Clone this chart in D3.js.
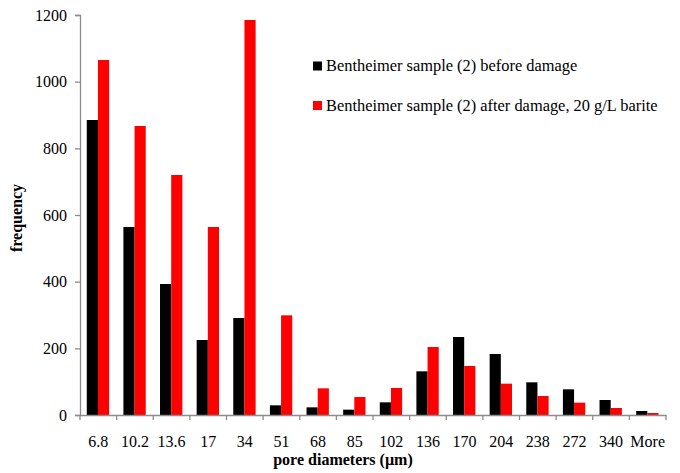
<!DOCTYPE html>
<html><head><meta charset="utf-8">
<script src="https://cdn.jsdelivr.net/npm/d3@7"></script>
<style>body{margin:0;background:#fff}svg{display:block}svg text{font-family:'Liberation Serif','Times New Roman','DejaVu Serif',serif !important}</style>
</head><body><svg id="c" width="680" height="473"></svg>
<script>
const categories = ["6.8","10.2","13.6","17","34","51","68","85","102","136","170","204","238","272","340","More"];
const beforeDamage = [885,564,393,225,291,29,23,16,38,131,234,183,98,77,45,12];
const afterDamage = [1065,867,720,564,1185,299,80,54,81,204,147,94,57,37,21,6];
const seriesNames = ["Bentheimer sample (2) before damage","Bentheimer sample (2) after damage, 20 g/L barite"];
const seriesColors = ["#000000","#ff0000"];
const yTicks = [0,200,400,600,800,1000,1200];

const FF = "'Liberation Serif','Times New Roman','DejaVu Serif',serif";
const svg = d3.select("#c");
const L=80, R=666, T=15, B=415;
const x0 = d3.scaleBand().domain(categories).range([L,R]).padding(0);
const bw = x0.bandwidth();
const x1 = d3.scaleBand().domain([0,1]).range([bw*0.185, bw*0.795]).padding(0);
const y = d3.scaleLinear().domain([0,1200]).range([B,T]);
const axisCol = "#8c8c8c";

const data = categories.map((c,i)=>({c, v:[beforeDamage[i], afterDamage[i]]}));
const g = svg.append("g");
data.forEach(d=>{
  d.v.forEach((v,j)=>{
    g.append("rect").attr("x", x0(d.c)+x1(j)).attr("width", x1.bandwidth())
     .attr("y", y(v)).attr("height", B-y(v)).attr("fill", seriesColors[j]);
  });
});

// y axis
const ya = svg.append("g").attr("transform",`translate(${L},0)`)
  .call(d3.axisLeft(y).tickValues(yTicks).tickSize(5).tickPadding(8).tickFormat(d3.format("d")));
ya.attr("font-family",FF);
ya.select(".domain").attr("stroke",axisCol).attr("stroke-width",1.3);
ya.selectAll(".tick line").attr("stroke",axisCol).attr("stroke-width",1.3);
ya.selectAll("text").attr("font-size",16).attr("fill","#000").style("font-family",FF);

// x axis
const xa = svg.append("g").attr("transform",`translate(0,${B})`)
  .call(d3.axisBottom(x0).tickSize(0).tickPadding(21));
xa.attr("font-family",FF);
xa.select(".domain").attr("stroke",axisCol).attr("stroke-width",1.3);
xa.selectAll("text").attr("font-size",16).attr("fill","#000").style("font-family",FF);
const bounds = categories.map(c=>x0(c)).concat([R]);
xa.selectAll(".bt").data(bounds).enter().append("line")
  .attr("x1",d=>d).attr("x2",d=>d).attr("y1",0).attr("y2",5)
  .attr("stroke",axisCol).attr("stroke-width",1.3);

// titles
svg.append("text").attr("x",343).attr("y",465).attr("text-anchor","middle").style("font-family",FF)
  .attr("font-size",16).attr("font-weight","bold").text("pore diameters (µm)");
svg.append("text").attr("transform","translate(22,218) rotate(-90)").attr("text-anchor","middle").style("font-family",FF)
  .attr("font-size",16).attr("font-weight","bold").text("frequency");

// legend
const lg = svg.append("g");
const ly = [66,105.5];
seriesNames.forEach((n,i)=>{
  lg.append("rect").attr("x",313).attr("y",ly[i]-4.5).attr("width",9).attr("height",9).attr("fill",seriesColors[i]);
  lg.append("text").attr("x",326).attr("y",ly[i]+5).attr("font-size",16.4).attr("fill","#000").style("font-family",FF).text(n);
});
</script></body></html>
